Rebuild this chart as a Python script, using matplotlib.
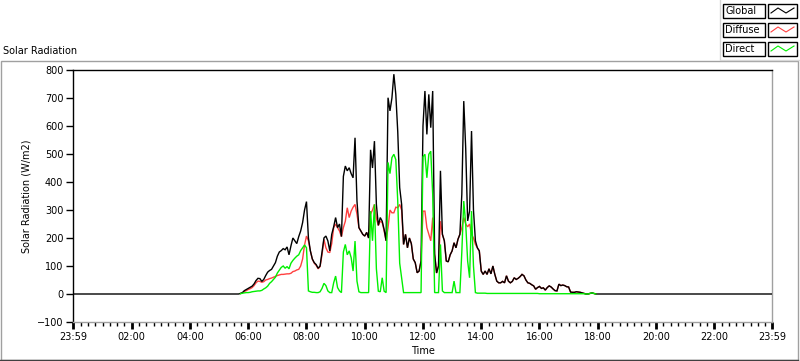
import numpy as np
import matplotlib
matplotlib.use('Agg')
import matplotlib.pyplot as plt
from matplotlib.patches import Rectangle
from matplotlib.lines import Line2D

# readings every 4 minutes, starting 05:00, one row per hour (05:00 .. 17:56)
start_hour = 5.0
step_min = 4

global_rad = [
    0, 0, 0, 0, 0, 0, 0, 0, 0, 0, 0, 2, 5, 12, 16,
    20, 24, 28, 36, 48, 56, 55, 45, 52, 66, 78, 84, 88, 100, 112,
    135, 150, 155, 162, 158, 168, 140, 172, 200, 190, 180, 205, 225, 255, 300,
    330, 200, 154, 125, 112, 105, 92, 100, 150, 200, 207, 190, 154, 213, 240,
    273, 237, 250, 205, 420, 457, 440, 451, 430, 415, 558, 332, 237, 225, 213,
    207, 220, 200, 515, 450, 546, 320, 245, 273, 260, 230, 190, 701, 654, 700,
    785, 713, 580, 380, 320, 177, 213, 165, 200, 180, 125, 112, 76, 82, 118,
    600, 725, 570, 713, 594, 725, 142, 75, 100, 440, 213, 190, 118, 115, 140,
    154, 183, 165, 195, 213, 356, 689, 520, 261, 296, 582, 300, 190, 165, 154,
    82, 70, 82, 70, 90, 72, 100, 70, 46, 40, 40, 45, 40, 65, 46,
    40, 45, 58, 52, 56, 62, 70, 65, 50, 40, 38, 33, 29, 17, 23,
    27, 20, 22, 14, 23, 29, 25, 18, 12, 11, 35, 30, 32, 30, 26,
    25, 7, 6, 6, 8, 7, 6, 4, 2, 0, 0, 2, 4, 2, 0,
]

diffuse_rad = [
    0, 0, 0, 0, 0, 0, 0, 0, 0, 0, 0, 2, 4, 9, 12,
    16, 19, 23, 30, 40, 46, 45, 42, 44, 50, 52, 55, 57, 60, 63,
    66, 68, 70, 70, 71, 72, 72, 74, 80, 82, 86, 88, 100, 125, 175,
    207, 190, 154, 125, 110, 102, 90, 98, 140, 195, 165, 150, 148, 180, 237,
    250, 237, 225, 205, 237, 260, 308, 273, 296, 310, 320, 285, 237, 225, 213,
    207, 220, 200, 285, 300, 320, 270, 245, 260, 255, 225, 190, 237, 300, 290,
    290, 310, 308, 320, 300, 177, 213, 165, 200, 180, 125, 112, 76, 82, 118,
    296, 296, 237, 213, 190, 273, 142, 75, 100, 260, 213, 190, 118, 115, 140,
    154, 183, 165, 195, 213, 237, 273, 250, 240, 250, 213, 200, 177, 165, 154,
    82, 70, 82, 70, 90, 72, 100, 70, 46, 40, 40, 45, 40, 65, 46,
    40, 45, 58, 52, 56, 62, 70, 65, 50, 40, 38, 33, 29, 17, 23,
    27, 20, 22, 14, 23, 29, 25, 18, 12, 11, 35, 30, 32, 30, 26,
    25, 7, 6, 6, 8, 7, 6, 4, 2, 0, 0, 2, 4, 2, 0,
]

direct_rad = [
    0, 0, 0, 0, 0, 0, 0, 0, 0, 0, 0, 1, 3, 4, 5,
    5, 6, 8, 9, 10, 11, 11, 13, 18, 22, 28, 38, 44, 52, 60,
    75, 85, 95, 100, 92, 98, 90, 110, 120, 128, 135, 140, 155, 165, 175,
    165, 11, 8, 6, 6, 5, 5, 8, 20, 38, 30, 11, 5, 5, 40,
    64, 23, 11, 5, 150, 177, 140, 154, 130, 82, 189, 46, 8, 5, 5,
    5, 5, 5, 296, 190, 320, 90, 10, 8, 58, 10, 5, 470, 430, 487,
    499, 480, 332, 110, 58, 5, 5, 5, 5, 5, 5, 5, 5, 5, 5,
    490, 499, 415, 499, 510, 356, 5, 5, 5, 177, 11, 5, 5, 5, 5,
    5, 46, 5, 5, 5, 150, 332, 250, 118, 58, 296, 100, 5, 3, 3,
    3, 3, 3, 2, 2, 2, 2, 2, 2, 2, 2, 2, 2, 2, 2,
    2, 2, 2, 2, 2, 2, 2, 2, 2, 2, 2, 2, 2, 2, 2,
    1, 1, 1, 1, 1, 1, 1, 1, 1, 1, 1, 1, 1, 1, 1,
    1, 1, 1, 1, 1, 1, 1, 1, 1, 0, 0, 2, 4, 2, 0,
]

tick_hours = [0, 2, 4, 6, 8, 10, 12, 14, 16, 18, 20, 22, 24]
tick_labels = ['23:59', '02:00', '04:00', '06:00', '08:00', '10:00', '12:00',
               '14:00', '16:00', '18:00', '20:00', '22:00', '23:59']

# name, values, colour, draw order, first reading index shown
series = [('Global', global_rad, '#000000', 3),
          ('Diffuse', diffuse_rad, '#ff4040', 2),
          ('Direct', direct_rad, '#00f000', 4)]

W, H = 800, 361
fig = plt.figure(figsize=(W / 100, H / 100), dpi=100)


def fx(px):
    return px / W


def fy(py):
    return 1 - py / H


# outer frame of the graph panel
frame = Rectangle((fx(0.5), fy(360)), fx(797.5), fy(61) - fy(360), transform=fig.transFigure,
                  fill=False, edgecolor='#a0a0a0', lw=1.0)
fig.add_artist(frame)
fig.add_artist(Line2D([fx(0), fx(798)], [fy(360), fy(360)], transform=fig.transFigure,
                      color='#404040', lw=1.0))

x0, x1, ytop, ybot = 73, 772, 70, 322
ax = fig.add_axes([fx(x0), fy(ybot), fx(x1 - x0), fy(ytop) - fy(ybot)])

t_start = -1 / 60
t_end = 24 - 1 / 60
for name, vals, col, z in series:
    t = start_hour + np.arange(len(vals)) * step_min / 60
    v = np.asarray(vals, dtype=float)
    if name == 'Global':
        # the night part of the day reads zero
        t = np.concatenate([[t_start], t, [t_end]])
        v = np.concatenate([[0], v, [0]])
    else:
        keep = t >= 5.7
        t, v = t[keep], v[keep]
    ax.plot(t, v, color=col, lw=1.0, zorder=z, solid_joinstyle='miter')

ax.set_xlim(t_start, t_end)
ax.set_ylim(-100, 800)
ax.set_yticks(np.arange(-100, 801, 100))
ax.set_xticks([h - 1 / 60 if h in (0, 24) else h for h in tick_hours])
ax.set_xticklabels(tick_labels)
ax.set_xticks(np.arange(0.25, 24, 0.25), minor=True)
ax.tick_params(axis='both', which='major', labelsize=7, direction='out', length=5,
               width=1, color='black', pad=2)
ax.tick_params(axis='x', which='minor', direction='out', length=3, width=1, color='black')
ax.tick_params(axis='x', which='major', width=2)

for side in ('left', 'top'):
    ax.spines[side].set_color('black')
for side in ('right', 'bottom'):
    ax.spines[side].set_color('#a0a0a0')
for s in ax.spines.values():
    s.set_linewidth(1.0)

ax.set_ylabel('Solar Radiation (W/m2)', fontsize=7, labelpad=4)
ax.set_xlabel('Time', fontsize=7, labelpad=3)

fig.text(fx(3), fy(51), 'Solar Radiation', fontsize=7, ha='left', va='center')

# legend panel in the top right corner
fig.add_artist(Line2D([fx(720), fx(720), fx(800)], [fy(0), fy(60), fy(60)],
                      transform=fig.transFigure, color='#d8d8d8', lw=1.0))
rows_y = [11, 30, 49]
legend_order = sorted(series, key=lambda s: ['Global', 'Diffuse', 'Direct'].index(s[0]))
for (name, vals, col, z), cy in zip(legend_order, rows_y):
    fig.add_artist(Rectangle((fx(723), fy(cy + 7)), fx(42), fy(cy - 7) - fy(cy + 7),
                             transform=fig.transFigure, fill=False, edgecolor='black', lw=1.0))
    fig.text(fx(725), fy(cy), name, fontsize=7, ha='left', va='center')
    fig.add_artist(Rectangle((fx(768), fy(cy + 7)), fx(29), fy(cy - 7) - fy(cy + 7),
                             transform=fig.transFigure, fill=False, edgecolor='black', lw=1.0))
    sx = [771, 778, 786, 794]
    sy = [cy + 2, cy - 3, cy + 2, cy - 3]
    fig.add_artist(Line2D([fx(p) for p in sx], [fy(p) for p in sy],
                          transform=fig.transFigure, color=col, lw=0.8))

fig.savefig('out.png', dpi=100)
